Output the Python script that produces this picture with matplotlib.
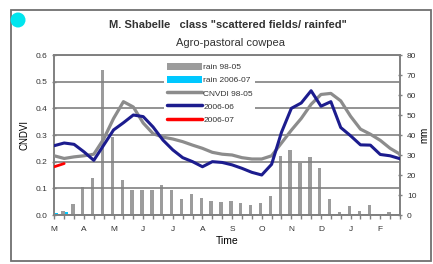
import matplotlib
matplotlib.use("Agg")
import matplotlib.pyplot as plt
from matplotlib.patches import Patch, Ellipse, Rectangle
from matplotlib.lines import Line2D
import numpy as np

plt.rcParams['font.family'] = ['Liberation Sans', 'DejaVu Sans']

month_labels = ["M", "A", "M", "J", "J", "A", "S", "O", "N", "D", "J", "F"]

rain_98_05 = [0, 2, 5.5, 14, 18.7, 72.5, 39, 17.5, 12.5, 12.5, 12.5, 15,
              12.5, 8, 10.5, 8.3, 7.2, 6.7, 7.2, 6.2, 5, 6.2, 9.7, 29.5,
              32.5, 26, 29.2, 23.3, 7.8, 1.7, 4.5, 2.2, 5, 0, 1.3, 0]
rain_2006_07 = [1.0, 1.5]

cndvi_98_05 = [0.222, 0.212, 0.218, 0.222, 0.228, 0.285, 0.362, 0.425, 0.405,
               0.345, 0.305, 0.292, 0.285, 0.275, 0.262, 0.25, 0.235, 0.228,
               0.225, 0.215, 0.21, 0.21, 0.222, 0.27, 0.318, 0.362, 0.415,
               0.452, 0.456, 0.428, 0.37, 0.322, 0.303, 0.28, 0.25, 0.228]
cndvi_2006_06 = [0.26, 0.27, 0.265, 0.237, 0.205, 0.262, 0.319, 0.346, 0.375,
                 0.369, 0.33, 0.281, 0.244, 0.215, 0.2, 0.181, 0.2, 0.197,
                 0.188, 0.175, 0.16, 0.15, 0.19, 0.31, 0.4, 0.42, 0.466,
                 0.408, 0.425, 0.328, 0.297, 0.263, 0.262, 0.227, 0.222, 0.211]
cndvi_2006_07 = [0.181, 0.193]

W, H = 433, 264
fig = plt.figure(figsize=(W / 100, H / 100), dpi=100)

# frame and dot
fig.patches.append(Rectangle((10.5 / W, 1 - 261 / H), (431 - 10.5) / W, (261 - 10) / H,
                             transform=fig.transFigure, fill=False,
                             edgecolor='#707070', lw=1.3))
fig.patches.append(Ellipse((18 / W, 1 - 20 / H), 15 / W, 15 / H,
                           transform=fig.transFigure,
                           facecolor='#00e5ee', edgecolor='none'))

left, right, bottom, top = 54.3, 400, 215, 55
ax = fig.add_axes([left / W, 1 - bottom / H, (right - left) / W, (bottom - top) / H])
ax2 = ax.twinx()

gcol = '#808080'
x = np.arange(len(rain_98_05))

# bars (mm) on ax
ax.bar(x - 0.12, rain_98_05, width=0.34, color='#9c9c9c', zorder=2)
ax.bar(np.arange(len(rain_2006_07)) + 0.22, rain_2006_07, width=0.34,
       color='#00c8ff', zorder=2)
ax.set_ylim(0, 80)
ax.set_yticks(range(0, 81, 10))
ax.yaxis.tick_right()
ax.yaxis.set_label_position('right')
ax.set_ylabel('mm', fontsize=7, labelpad=2)
ax.set_xlim(0, 35)
ax.set_xticks(x)
ax.set_xticklabels([month_labels[i // 3] if i % 3 == 0 else '' for i in x])

# lines on ax2
ax2.plot(x, cndvi_98_05, color='#8c8c8c', lw=2.3, solid_capstyle='round', zorder=3)
ax2.plot(x, cndvi_2006_06, color='#1c1c8e', lw=2.2, solid_capstyle='round', zorder=4)
ax2.plot(np.arange(len(cndvi_2006_07)), cndvi_2006_07, color='#ff0000', lw=2.0,
         solid_capstyle='round', zorder=4)
ax2.set_ylim(0, 0.6)
ax2.set_yticks(np.arange(0, 0.61, 0.1))
ax2.set_yticklabels([f"{v:.1f}" for v in np.arange(0, 0.61, 0.1)])
ax2.yaxis.tick_left()
ax2.yaxis.set_label_position('left')
ax2.set_ylabel('CNDVI', fontsize=7, labelpad=4)
ax2.grid(axis='y', color=gcol, lw=1.2)
ax2.set_axisbelow(True)

for a in (ax, ax2):
    for s in a.spines.values():
        s.set_color(gcol)
        s.set_linewidth(1.2)
    a.tick_params(axis='both', labelsize=6, colors='#333333', length=3, width=1,
                  direction='inout')
    a.tick_params(axis='both', color=gcol)
ax.tick_params(axis='x', direction='out', length=3, pad=5)

ax.set_xlabel('Time', fontsize=7.5, labelpad=2)

handles = [Patch(facecolor='#9c9c9c', edgecolor='none'),
           Patch(facecolor='#00c8ff', edgecolor='none'),
           Line2D([], [], color='#8c8c8c', lw=2.5, solid_capstyle='round'),
           Line2D([], [], color='#1c1c8e', lw=2.5, solid_capstyle='round'),
           Line2D([], [], color='#ff0000', lw=2.5, solid_capstyle='round')]
labels = ['rain 98-05', 'rain 2006-07', 'CNVDI 98-05', '2006-06', '2006-07']
leg = ax2.legend(handles, labels, loc='upper left',
                 bbox_to_anchor=(160 / W, 1 - 56 / H), bbox_transform=fig.transFigure,
                 fontsize=6, handlelength=4.2, handleheight=1.0, handletextpad=0.2,
                 labelspacing=0.55, borderpad=0.3, frameon=True, fancybox=False,
                 framealpha=1, facecolor='white', edgecolor='none')
for t in leg.get_texts():
    t.set_color('#333333')

fig.text(228 / W, 1 - 25 / H, 'M. Shabelle   class "scattered fields/ rainfed"',
         ha='center', va='center', fontsize=8, fontweight='bold', color='#333333')
fig.text(231 / W, 1 - 43 / H, 'Agro-pastoral cowpea', ha='center', va='center',
         fontsize=8, color='#333333')

fig.savefig('out.png', dpi=100)
